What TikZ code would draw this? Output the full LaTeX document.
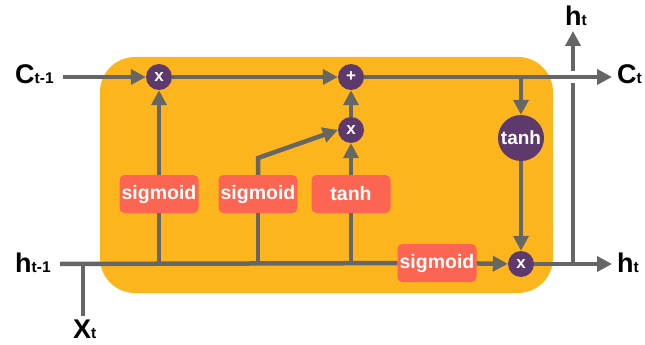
\documentclass[tikz,border=0pt]{standalone}
\usepackage{fontspec}
\setmainfont{Liberation Sans}
\usetikzlibrary{arrows.meta}
\definecolor{cellbg}{RGB}{253,181,30}
\definecolor{gatebox}{RGB}{251,101,82}
\definecolor{opcirc}{RGB}{94,57,108}
\definecolor{wirec}{RGB}{102,102,102}
\begin{document}
\begin{tikzpicture}[x=1pt,y=-1pt,
  wire/.style={draw=wirec,line width=4.5pt},
  arr/.style={wire,-{Triangle[length=15pt,width=15pt]}},
  gate/.style={fill=gatebox,rounded corners=5pt,minimum width=79pt,minimum height=38pt,inner sep=0pt,text=white,font=\fontsize{19.5}{19.5}\selectfont\bfseries},
  op/.style={circle,fill=opcirc,minimum size=26pt,inner sep=0pt,text=white,font=\fontsize{17}{17}\selectfont\bfseries},
  lbl/.style={inner sep=0pt,anchor=base west,font=\bfseries}
]
\useasboundingbox (0,0) rectangle (645,345);
\fill[cellbg,rounded corners=35pt] (100,57) rectangle (553,293);

% labels
\node[lbl] (lcin) at (15,84) {\fontsize{27}{27}\selectfont C\fontsize{15.5}{15.5}\selectfont t-1};
\node[lbl] (lcout) at (617,84) {\fontsize{27}{27}\selectfont C\fontsize{15.5}{15.5}\selectfont t};
\node[lbl] (lhin) at (15,272) {\fontsize{27}{27}\selectfont h\fontsize{15.5}{15.5}\selectfont t-1};
\node[lbl] (lhout) at (617,272) {\fontsize{27}{27}\selectfont h\fontsize{15.5}{15.5}\selectfont t};
\node[lbl] (lhtop) at (565,26) {\fontsize{27}{27}\selectfont h\fontsize{15.5}{15.5}\selectfont t};
\node[lbl] (lx) at (73,338) {\fontsize{27}{27}\selectfont X\fontsize{15.5}{15.5}\selectfont t};

% coordinates
\coordinate (cin) at (63,77);
\coordinate (cout) at (612,77);
\coordinate (hin) at (60,264);
\coordinate (hout) at (612,264);
\coordinate (xin) at (83,316);
\coordinate (xj) at (83,264);
\coordinate (htop) at (573,31);
\coordinate (hj) at (573,264);
\coordinate (cj) at (521,77);
\coordinate (j1) at (159,264);
\coordinate (j2) at (258,264);
\coordinate (j3) at (351,264);
\coordinate (bend) at (258,158);
\coordinate (gapl) at (566,77);
\coordinate (gapr) at (580,77);

% nodes
\node[op] (m1) at (159,77) {x};
\node[op] (add) at (351,77) {+};
\node[op] (m2) at (351,130) {x};
\node[op,minimum size=46pt,font=\fontsize{19}{19}\selectfont\bfseries] (th) at (521,138) {tanh};
\node[op] (m3) at (521,264) {x};
\node[gate] (g1) at (159,194) {sigmoid};
\node[gate] (g2) at (258,194) {sigmoid};
\node[gate] (g3) at (351,194) {tanh};
\node[gate] (g4) at (437,263) {sigmoid};

% connectors
\draw[arr] (cin) -- (m1);
\draw[arr] (m1) -- (add);
\draw[arr] (hj) -- (htop);
\draw[white,line width=12pt] (gapl) -- (gapr);
\draw[arr] (add) -- (cout);
\draw[arr] (cj) -- (th);
\draw[arr] (th) -- (m3);
\draw[arr] (m3) -- (hout);
\draw[wire] (hin) -- (g4);
\draw[arr] (g4) -- (m3);
\draw[wire] (xin) -- (xj);
\draw[wire] (j1) -- (g1);
\draw[arr] (g1) -- (m1);
\draw[wire] (j2) -- (g2);
\draw[arr] (g2) -- (bend) -- (m2.west);
\draw[wire] (j3) -- (g3);
\draw[arr] (g3) -- (m2);
\draw[arr] (m2) -- (add);
\end{tikzpicture}
\end{document}
